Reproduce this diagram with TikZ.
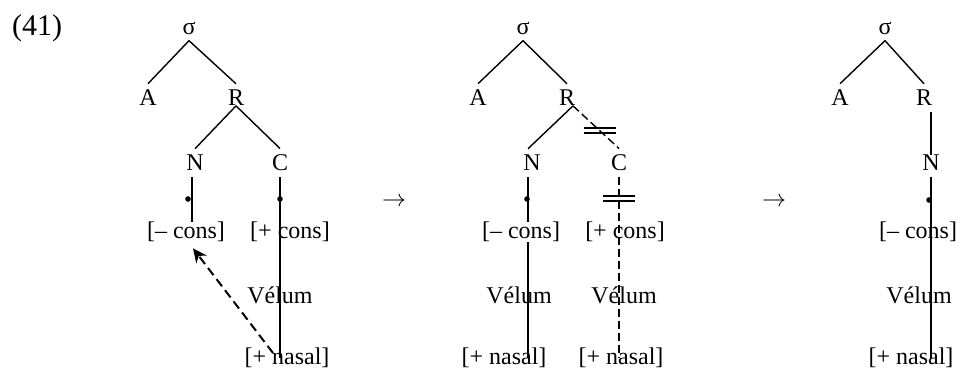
\documentclass[tikz,border=0pt]{standalone}
\usepackage{fontspec}
\setmainfont{Liberation Serif}
\usetikzlibrary{arrows.meta,calc}
\begin{document}
\begin{tikzpicture}[x=0.5pt,y=-0.5pt,
  every node/.style={font=\fontsize{12pt}{14pt}\selectfont},
  lab/.style={inner xsep=0pt, inner ysep=3pt},
  feat/.style={inner sep=0pt},
  br/.style={line width=0.7pt},
  brdash/.style={line width=0.7pt, dash pattern=on 4pt off 2pt},
  spread/.style={line width=1pt, dash pattern=on 4.5pt off 2.5pt, -{Stealth[length=7pt,width=6.5pt]}},
  dotmark/.style={circle, fill, inner sep=0pt, minimum size=2.8pt},
  dbar/.style={line width=0.7pt}
]
\useasboundingbox (0,0) rectangle (957,371);
\node[font=\fontsize{15pt}{18pt}\selectfont] (ex) at (37,28) {(41)};

% ---------- tree 1 ----------
\node[lab] (s1) at (189,28) {σ};
\node[lab] (a1) at (148,98) {A};
\node[lab] (r1) at (236,98) {R};
\node[lab] (n1) at (195,163) {N};
\node[lab] (c1) at (280,163) {C};
\node[feat] (mc1) at (186,232) {[– cons]};
\node[feat] (pc1) at (290,232) {[+ cons]};
\node[feat] (v1) at (280,295) {Vélum};
\node[feat] (ns1) at (287,358) {[+ nasal]};
\draw[br] (s1.south) -- (a1.north);
\draw[br] (s1.south) -- (r1.north);
\draw[br] (r1.base) -- (n1.north);
\draw[br] (r1.base) -- (c1.north);
\draw[br] ([xshift=-1.5pt]n1.south) -- ([xshift=-1.5pt]n1.south |- mc1.north);
\draw[br] (c1.south) -- (c1 |- ns1);
\node[dotmark] (d1) at (188,199) {};
\node[dotmark] (d2) at (280,199) {};
\coordinate (t1) at (273,353);
\draw[spread] (t1) -- ([xshift=3.5pt,yshift=-3pt]mc1.south);

\node (ar1) at (394,202) {$\rightarrow$};

% ---------- tree 2 ----------
\node[lab] (s2) at (523,28) {σ};
\node[lab] (a2) at (478,98) {A};
\node[lab] (r2) at (567,98) {R};
\node[lab] (n2) at (532,163) {N};
\node[lab] (c2) at (619,163) {C};
\node[feat] (mc2) at (521,232) {[– cons]};
\node[feat] (pc2) at (625,232) {[+ cons]};
\node[feat] (v2a) at (519,295) {Vélum};
\node[feat] (v2b) at (624,295) {Vélum};
\node[feat] (ns2a) at (504,358) {[+ nasal]};
\node[feat] (ns2b) at (621,358) {[+ nasal]};
\draw[br] (s2.south) -- (a2.north);
\draw[br] (s2.south) -- (r2.north);
\draw[br] ([xshift=3pt]r2.base) -- ([xshift=-2pt]n2.north);
\draw[brdash] ([xshift=3pt]r2.base) -- (c2.north);
\draw[br] ([xshift=-2pt]n2.south) -- ([xshift=-2pt]n2.south |- mc2.north);
\draw[br] ([xshift=-2pt]n2.south |- mc2.south) -- ([xshift=-2pt]n2.south |- ns2a.center);
\node[dotmark] (d3) at (527,199) {};
\draw[brdash] (c2.south) -- (c2 |- ns2b);
\coordinate (b1) at ($([xshift=3pt]r2.base)!0.58!(c2.north)$);
\draw[dbar] ([shift={(-8pt,1.25pt)}]b1) -- ++(16pt,0);
\draw[dbar] ([shift={(-8pt,-1.25pt)}]b1) -- ++(16pt,0);
\coordinate (b2) at ([yshift=-10.5pt]c2.south);
\draw[dbar] ([shift={(-8pt,1.25pt)}]b2) -- ++(16pt,0);
\draw[dbar] ([shift={(-8pt,-1.25pt)}]b2) -- ++(16pt,0);

\node (ar2) at (774,202) {$\rightarrow$};

% ---------- tree 3 ----------
\node[lab] (s3) at (885,28) {σ};
\node[lab] (a3) at (840,98) {A};
\node[lab] (r3) at (924,98) {R};
\node[lab] (n3) at (931,163) {N};
\node[feat] (mc3) at (918,232) {[– cons]};
\node[feat] (v3) at (919,295) {Vélum};
\node[feat] (ns3) at (911,358) {[+ nasal]};
\draw[br] (s3.south) -- (a3.north);
\draw[br] (s3.south) -- (r3.north);
\draw[br] (n3 |- r3.south) -- ([yshift=-3pt]n3.north);
\draw[br] (n3.south) -- (n3 |- ns3);
\node[dotmark] (d4) at (929,200) {};
\end{tikzpicture}
\end{document}
